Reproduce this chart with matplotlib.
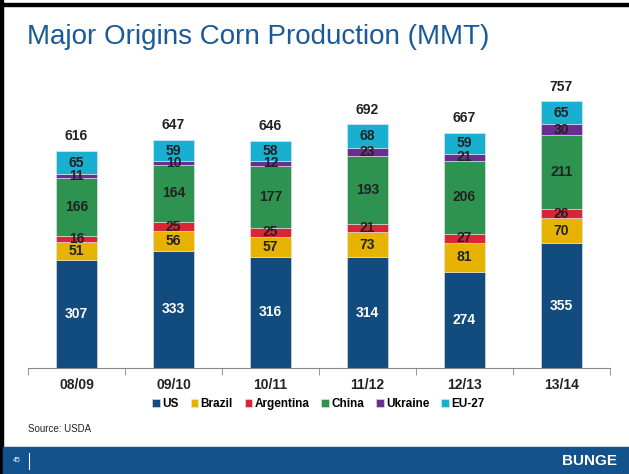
import numpy as np
import matplotlib.pyplot as plt
from matplotlib.patches import Rectangle

plt.rcParams['font.family'] = ['Liberation Sans', 'DejaVu Sans']

years = ['08/09', '09/10', '10/11', '11/12', '12/13', '13/14']
series_names = ['US', 'Brazil', 'Argentina', 'China', 'Ukraine', 'EU-27']
us = [307, 333, 316, 314, 274, 355]
brazil = [51, 56, 57, 73, 81, 70]
argentina = [16, 25, 25, 21, 27, 26]
china = [166, 164, 177, 193, 206, 211]
ukraine = [11, 10, 12, 23, 21, 30]
eu27 = [65, 59, 58, 68, 59, 65]
totals = [616, 647, 646, 692, 667, 757]

colors = ['#124b7d', '#e5b300', '#da2536', '#2e9250', '#6a2d90', '#19afd1']
series = [us, brazil, argentina, china, ukraine, eu27]

W, H = 629, 474
fig = plt.figure(figsize=(W / 100, H / 100), dpi=100)

# slide decoration
fig.patches.append(Rectangle((0, 0), 3 / W, 1, transform=fig.transFigure, color='black'))
fig.patches.append(Rectangle((0, 1 - 6 / H), 1, 3 / H, transform=fig.transFigure, color='black'))
fig.patches.append(Rectangle((3 / W, 0), 1, 27 / H, transform=fig.transFigure, color='#13528c'))
fig.text(27 / W, 1 - 37 / H, 'Major Origins Corn Production (MMT)', fontsize=20,
         color='#1a5a98', va='center', ha='left')
fig.text(28 / W, 1 - 429 / H, 'Source: USDA', fontsize=7, color='#222222', va='center')
fig.text(13 / W, 13 / H, '45', fontsize=5, color='white', va='center')
fig.add_artist(plt.Line2D([29 / W, 29 / W], [5 / H, 21 / H], color='white', lw=0.8))
fig.text(617 / W, 13 / H, 'BUNGE', fontsize=11, color='white', weight='bold',
         va='center', ha='right')

ax = fig.add_axes([28 / W, (H - 368) / H, 582 / W, 282 / H])
x = np.arange(len(years))
bottom = np.zeros(len(years))
for name, vals, c in zip(series_names, series, colors):
    ax.bar(x, vals, 0.42, bottom=bottom, color=c, label=name, edgecolor='#e8e8e8', linewidth=0.4)
    for xi, b, v in zip(x, bottom, vals):
        ax.text(xi, b + v / 2, str(v), ha='center', va='center', fontsize=10, weight='bold',
                color='white' if name == 'US' else '#222222')
    bottom += np.array(vals)
for xi, t in zip(x, totals):
    ax.text(xi, t + 42, str(t), ha='center', va='center', fontsize=10, weight='bold', color='#222222')

ax.set_xlim(-0.5, len(years) - 0.5)
ax.set_ylim(0, 801)
ax.set_yticks([])
ax.set_xticks(x)
ax.set_xticklabels(years, fontsize=10, weight='bold', color='#222222')
ax.set_xticks(np.arange(len(years) + 1) - 0.5, minor=True)
ax.tick_params(axis='x', which='major', length=0, pad=7)
ax.tick_params(axis='x', which='minor', length=5, color='#888888')
for s in ['top', 'right', 'left']:
    ax.spines[s].set_visible(False)
ax.spines['bottom'].set_color('#888888')

fig.legend(loc='center', bbox_to_anchor=(0.5 + 4 / W, 1 - 404 / H), ncol=6, frameon=False,
           handlelength=0.65, handleheight=0.65, handletextpad=0.2, columnspacing=1.0,
           prop={'weight': 'bold', 'size': 8.5})

fig.savefig('out.png', dpi=100)
